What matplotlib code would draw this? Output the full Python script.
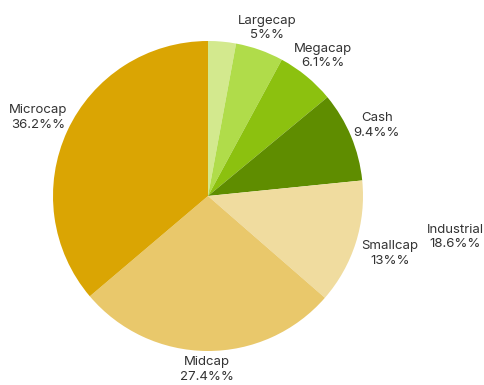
import matplotlib
matplotlib.use("Agg")
import matplotlib.pyplot as plt
import numpy as np

# dados (ordem horaria a partir do topo)
categorias = ["Industrial", "Largecap", "Megacap", "Cash", "Smallcap", "Midcap", "Microcap"]
valores = [2.9, 5.0, 6.1, 9.4, 13.0, 27.4, 36.2]
rotulos_pct = ["18.6%%", "5%%", "6.1%%", "9.4%%", "13%%", "27.4%%", "36.2%%"]
cores = ["#d3e98e", "#b0dc4a", "#8cc10f", "#5f8d00", "#f0dc9f", "#e9c86b", "#daa503"]

# distancia do rotulo ao centro (em raios)
dist_rotulo = {"Largecap": 1.15, "Megacap": 1.17, "Cash": 1.18, "Smallcap": 1.23,
               "Midcap": 1.12, "Microcap": 1.21}

plt.rcParams['font.family'] = ['Inter', 'DejaVu Sans']

fig = plt.figure(figsize=(4.84, 3.85), dpi=100)
R = 155
ax = fig.add_axes([(208 - R) / 484, (385 - 196 - R) / 385, 2 * R / 484, 2 * R / 385])

wedges, _ = ax.pie(valores, colors=cores, startangle=90, counterclock=False,
                   radius=1.0, wedgeprops=dict(linewidth=0))
ax.set_xlim(-1, 1)
ax.set_ylim(-1, 1)
ax.set_aspect('equal')
ax.axis('off')

for w, cat, pct in zip(wedges, categorias, rotulos_pct):
    ang = np.deg2rad((w.theta1 + w.theta2) / 2)
    if cat == "Industrial":
        x, y = 247 / R, -41 / R  # rotulo deslocado como no original
    else:
        d = dist_rotulo[cat]
        x, y = d * np.cos(ang), d * np.sin(ang)
    ax.text(x, y, cat + "\n" + pct, ha="center", va="center", fontsize=9.5,
            color="#333333", linespacing=1.3, clip_on=False)

fig.savefig("out.png", dpi=100)
